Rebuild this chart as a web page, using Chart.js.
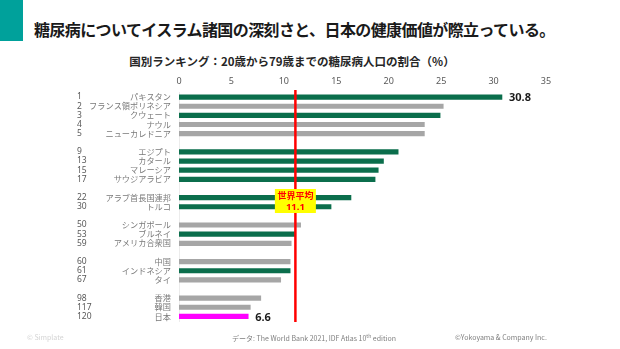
<!DOCTYPE html>
<html lang="ja">
<head>
<meta charset="utf-8">
<script src="https://cdn.jsdelivr.net/npm/chart.js@4.4.1/dist/chart.umd.min.js"></script>
<style>
  html, body { margin: 0; padding: 0; background: #fff; }
  body { width: 620px; height: 349px; position: relative; overflow: hidden;
         font-family: "Noto Sans CJK JP", "Noto Sans", sans-serif; }
  .bar-deco { position: absolute; left: 0; top: 0; width: 23px; height: 41px; background: #00a19b; }
  .title { position: absolute; left: 34px; top: 17px; font-size: 16px; font-weight: bold; color: #1a1a1a;
           white-space: nowrap; letter-spacing: -0.6px; }
  .sub { position: absolute; left: 0; width: 584px; top: 53px; text-align: center; font-size: 11.5px;
         font-weight: bold; color: #262626; white-space: nowrap; }
  .foot { position: absolute; top: 332px; font-size: 7px; white-space: nowrap; }
  #wrap { position: absolute; left: 0; top: 0; width: 620px; height: 349px; }
</style>
</head>
<body>
<div class="bar-deco"></div>
<div class="title">糖尿病についてイスラム諸国の深刻さと、日本の健康価値が際立っている。</div>
<div class="sub">国別ランキング：20歳から79歳までの糖尿病人口の割合（%）</div>
<div id="wrap"><canvas id="chart" width="620" height="349"></canvas></div>
<div class="foot" style="left:27px;color:#d4d4d4;">© Simplate</div>
<div class="foot" style="left:232px;color:#7f7f7f;">データ: The World Bank 2021, IDF Atlas 10<sup style="font-size:5px">th</sup> edition</div>
<div class="foot" style="left:455px;color:#7f7f7f;">©Yokoyama &amp; Company Inc.</div>
<script>
  // 空文字はグループ間の空き行
  const paises = ["パキスタン", "フランス領ポリネシア", "クウェート", "ナウル", "ニューカレドニア", "",
    "エジプト", "カタール", "マレーシア", "サウジアラビア", "",
    "アラブ首長国連邦", "トルコ", "",
    "シンガポール", "ブルネイ", "アメリカ合衆国", "",
    "中国", "インドネシア", "タイ", "",
    "香港", "韓国", "日本"];
  const rangos = ["1", "2", "3", "4", "5", "", "9", "13", "15", "17", "", "22", "30", "",
    "50", "53", "59", "", "60", "61", "67", "", "98", "117", "120"];
  const valores = [30.8, 25.2, 24.9, 23.4, 23.4, null, 20.9, 19.5, 19.0, 18.7, null,
    16.4, 14.5, null, 11.6, 11.1, 10.7, null, 10.6, 10.6, 9.7, null, 7.8, 6.8, 6.6];
  // 1 = イスラム諸国, 0 = その他, 2 = 日本
  const grupo = [1, 0, 1, 0, 0, 0, 1, 1, 1, 1, 0, 1, 1, 0, 0, 1, 0, 0, 0, 1, 0, 0, 0, 0, 2];
  const etiquetasValor = ["30.8", "", "", "", "", "", "", "", "", "", "", "", "", "",
    "", "", "", "", "", "", "", "", "", "", "6.6"];
  const mediaMundial = 11.1;
  const ticksX = [0, 5, 10, 15, 20, 25, 30, 35];

  const colores = grupo.map(g => g === 1 ? "#0b6e4c" : g === 2 ? "#ff00ff" : "#a6a6a6");

  const extras = {
    id: "extras",
    afterDatasetsDraw(chart) {
      const { ctx, scales: { x, y } } = chart;
      const meta = chart.getDatasetMeta(0);
      ctx.save();
      // ranking
      ctx.font = "8.5px 'Noto Sans', sans-serif";
      ctx.fillStyle = "#595959";
      ctx.textAlign = "left";
      ctx.textBaseline = "middle";
      rangos.forEach((r, i) => {
        if (r) ctx.fillText(r, 77, y.getPixelForValue(i));
      });
      // value labels
      ctx.font = "bold 11px 'Noto Sans', sans-serif";
      ctx.fillStyle = "#1a1a1a";
      etiquetasValor.forEach((t, i) => {
        if (!t) return;
        const bar = meta.data[i];
        ctx.fillText(t, bar.x + 7, bar.y + 1);
      });
      // world average line
      const xm = x.getPixelForValue(mediaMundial);
      ctx.strokeStyle = "#ff0000";
      ctx.lineWidth = 2.5;
      ctx.beginPath();
      ctx.moveTo(xm, 90);
      ctx.lineTo(xm, 322);
      ctx.stroke();
      // label box
      ctx.fillStyle = "#ffff00";
      ctx.fillRect(xm - 20.5, 189, 41, 24);
      ctx.fillStyle = "#ff0000";
      ctx.textAlign = "center";
      ctx.font = "bold 9px 'Noto Sans CJK JP', sans-serif";
      ctx.fillText("世界平均", xm, 196);
      ctx.font = "bold 9.5px 'Noto Sans', sans-serif";
      ctx.fillText(mediaMundial.toFixed(1), xm, 207);
      ctx.restore();
    }
  };

  new Chart(document.getElementById("chart"), {
    type: "bar",
    data: {
      labels: paises,
      datasets: [{
        data: valores,
        backgroundColor: colores,
        barThickness: 4.5
      }]
    },
    options: {
      indexAxis: "y",
      responsive: false,
      animation: false,
      layout: { padding: { left: 0, right: 74, top: 70, bottom: 28 } },
      plugins: { legend: { display: false }, tooltip: { enabled: false } },
      scales: {
        x: {
          position: "top",
          min: 0, max: 35,
          afterBuildTicks: s => { s.ticks = ticksX.map(v => ({ value: v })); },
          afterFit: s => { s.height = 22.5; },
          grid: { display: false, drawTicks: false },
          border: { display: false },
          ticks: { padding: 6, color: "#595959", font: { size: 9, family: "'Noto Sans', sans-serif" } }
        },
        y: {
          afterFit: s => { s.width = 179; },
          grid: { display: false, drawTicks: false },
          border: { display: true, color: "#ececec" },
          ticks: { padding: 8, autoSkip: false, color: "#7a7a7a",
                   font: { size: 8.2, family: "'Noto Sans CJK JP', sans-serif" } }
        }
      }
    },
    plugins: [extras]
  });
</script>
</body>
</html>
